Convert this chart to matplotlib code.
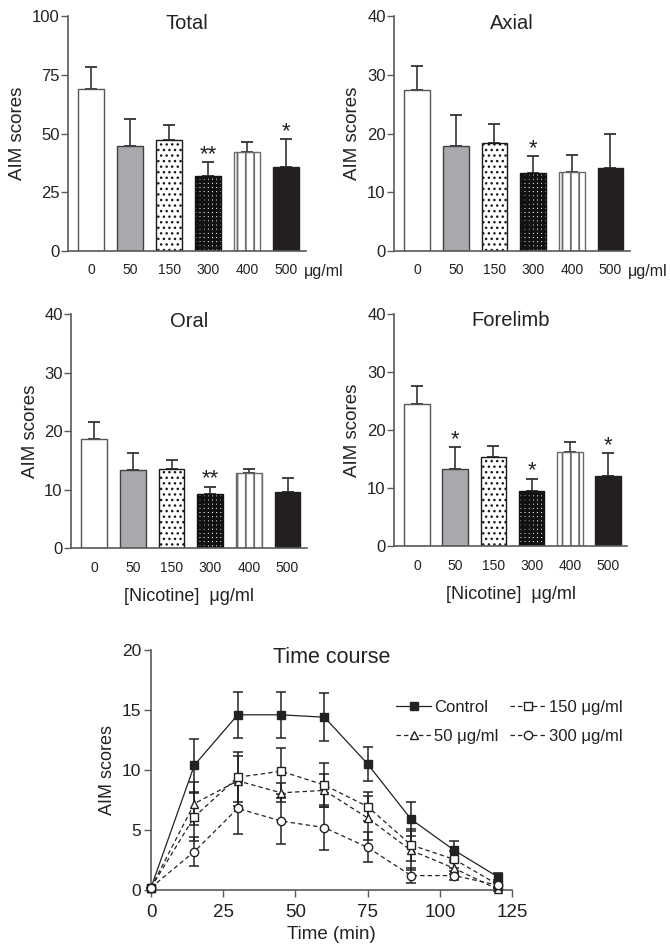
import matplotlib
matplotlib.use("Agg")
import matplotlib.pyplot as plt
from matplotlib.lines import Line2D
import numpy as np

plt.rcParams['font.family'] = ['Liberation Sans', 'DejaVu Sans']
plt.rcParams['hatch.linewidth'] = 1.0

# ---------------- data ----------------
doses = ["0", "50", "150", "300", "400", "500"]

total_mean = [68.9, 44.6, 47.2, 31.8, 42.2, 35.8]
total_top = [78.3, 56.1, 53.6, 37.8, 46.6, 47.6]
total_sig = ["", "", "", "**", "", "*"]

axial_mean = [27.4, 17.8, 18.4, 13.2, 13.5, 14.2]
axial_top = [31.5, 23.2, 21.6, 16.2, 16.4, 19.9]
axial_sig = ["", "", "", "*", "", ""]

oral_mean = [18.7, 13.4, 13.5, 9.2, 12.8, 9.6]
oral_top = [21.5, 16.2, 15.0, 10.5, 13.5, 12.0]
oral_sig = ["", "", "", "**", "", ""]

fore_mean = [24.5, 13.3, 15.4, 9.5, 16.2, 12.1]
fore_top = [27.6, 17.0, 17.3, 11.6, 18.0, 16.0]
fore_sig = ["", "*", "", "*", "", "*"]

time_min = [0, 15, 30, 45, 60, 75, 90, 105, 120]
ctrl_mean = [0.2, 10.4, 14.6, 14.6, 14.4, 10.5, 5.9, 3.3, 1.1]
ctrl_err = [0.0, 2.2, 1.9, 1.9, 2.0, 1.4, 1.4, 0.8, 0.3]
d50_mean = [0.2, 7.2, 9.1, 8.1, 8.3, 6.0, 3.3, 1.8, 0.05]
d50_err = [0.0, 1.8, 2.1, 0.8, 1.4, 1.8, 1.6, 0.5, 0.1]
d150_mean = [0.2, 6.1, 9.4, 9.9, 8.75, 6.95, 3.75, 2.55, 0.45]
d150_err = [0.0, 2.0, 2.1, 1.9, 1.85, 1.2, 1.3, 0.7, 0.2]
d300_mean = [0.2, 3.2, 6.8, 5.75, 5.2, 3.55, 1.2, 1.2, 0.4]
d300_err = [0.0, 1.2, 2.1, 1.95, 1.9, 1.25, 0.6, 0.4, 0.2]

AXC = '#5a5a5a'
TXT = '#222222'

bar_styles = [
    dict(facecolor='white', edgecolor='#555555', hatch=None, hlw=1.0),
    dict(facecolor='#a7a9ac', edgecolor='#404040', hatch=None, hlw=1.0),
    dict(facecolor='white', edgecolor='#1a1a1a', hatch='...', hlw=1.0),
    dict(facecolor='white', edgecolor='#111111', hatch='++++', hlw=2.2),
    dict(facecolor='white', edgecolor='#6a6a6a', hatch='||', hlw=1.3),
    dict(facecolor='#231f20', edgecolor='#231f20', hatch=None, hlw=1.0),
]

fig = plt.figure(figsize=(6.7, 9.47), dpi=100)


def style_axes(ax):
    for s in ['top', 'right']:
        ax.spines[s].set_visible(False)
    for s in ['left', 'bottom']:
        ax.spines[s].set_color(AXC)
        ax.spines[s].set_linewidth(1.2)
    ax.tick_params(axis='y', colors=AXC, labelcolor=TXT, length=5, width=1.0,
                   labelsize=12, pad=1)
    ax.tick_params(axis='x', length=0, labelcolor=TXT, labelsize=10, pad=9)


def bar_panel(rect, title, mean, top, sig, ymax, yticks, unit_right, xlabel):
    ax = fig.add_axes(rect)
    x = np.arange(len(doses))
    for i in x:
        st = bar_styles[i]
        with plt.rc_context({'hatch.linewidth': st['hlw']}):
            ax.bar(i, mean[i], width=0.67, facecolor=st['facecolor'],
                   edgecolor=st['edgecolor'], hatch=st['hatch'], linewidth=1.0,
                   zorder=2)
    errs = np.array(top) - np.array(mean)
    ax.errorbar(x, mean, yerr=[np.zeros_like(errs), errs], fmt='none',
                ecolor='#333333', elinewidth=1.2, capsize=4.3, capthick=1.3, zorder=1)
    for i, s in enumerate(sig):
        if s:
            ax.annotate(s, (i, top[i]), xytext=(0, 1.5), textcoords='offset points',
                        ha='center', va='baseline', fontsize=16, color=TXT)
    ax.set_xlim(-0.6, 5.5)
    ax.set_ylim(0, ymax)
    ax.set_yticks(yticks)
    ax.set_xticks(x)
    ax.set_xticklabels(doses)
    style_axes(ax)
    ax.set_ylabel('AIM scores', fontsize=13.5, color=TXT, labelpad=4)
    ax.text(0.5, 0.97, title, transform=ax.transAxes, ha='center', va='center',
            fontsize=14.5, color=TXT)
    if unit_right:
        ax.text(5.45, -0.055, 'μg/ml', transform=ax.get_xaxis_transform(),
                ha='left', va='top', fontsize=11.5, color=TXT)
    if xlabel:
        ax.set_xlabel('[Nicotine]  μg/ml', fontsize=13, color=TXT, labelpad=10)
    return ax


bar_panel([0.1015, 0.735, 0.355, 0.248], 'Total', total_mean, total_top, total_sig,
          100, [0, 25, 50, 75, 100], True, False)
bar_panel([0.588, 0.735, 0.352, 0.248], 'Axial', axial_mean, axial_top, axial_sig,
          40, [0, 10, 20, 30, 40], True, False)
bar_panel([0.106, 0.4213, 0.352, 0.247], 'Oral', oral_mean, oral_top, oral_sig,
          40, [0, 10, 20, 30, 40], False, True)
bar_panel([0.588, 0.4234, 0.348, 0.245], 'Forelimb', fore_mean, fore_top, fore_sig,
          40, [0, 10, 20, 30, 40], False, True)

# ---------------- time course ----------------
ax = fig.add_axes([0.2254, 0.0602, 0.539, 0.2534])
series = [
    ('Control', ctrl_mean, ctrl_err, 's', '-', TXT),
    ('50 μg/ml', d50_mean, d50_err, '^', '--', 'white'),
    ('150 μg/ml', d150_mean, d150_err, 's', '--', 'white'),
    ('300 μg/ml', d300_mean, d300_err, 'o', '--', 'white'),
]
handles = {}
for name, m, e, mk, ls, fc in series:
    dashes = (3.5, 2.5) if ls == '--' else None
    kw = dict(dashes=dashes) if dashes else {}
    ax.errorbar(time_min, m, yerr=e, fmt=mk, linestyle=ls, color=TXT,
                mfc=fc, mec=TXT, ms=6, lw=0.9, elinewidth=1.1, capsize=3.8,
                capthick=1.1, clip_on=False, zorder=3, **kw)
    handles[name] = Line2D([], [], marker=mk, linestyle=ls, color=TXT, mfc=fc,
                           mec=TXT, ms=6, lw=0.9, **kw)
ax.set_xlim(0, 125)
ax.set_ylim(0, 20)
ax.set_xticks([0, 25, 50, 75, 100, 125])
ax.set_yticks([0, 5, 10, 15, 20])
for s in ['top', 'right']:
    ax.spines[s].set_visible(False)
for s in ['left', 'bottom']:
    ax.spines[s].set_color(AXC)
    ax.spines[s].set_linewidth(1.2)
ax.tick_params(axis='y', colors=AXC, labelcolor=TXT, length=5, width=1.0,
               labelsize=12.5, pad=2)
ax.tick_params(axis='x', colors=AXC, labelcolor=TXT, length=5, width=1.0,
               labelsize=13.5, pad=5)
ax.set_ylabel('AIM scores', fontsize=13, color=TXT, labelpad=4)
ax.set_xlabel('Time (min)', fontsize=13.5, color=TXT, labelpad=4)
ax.text(0.5, 0.97, 'Time course', transform=ax.transAxes, ha='center', va='center',
        fontsize=15.5, color=TXT)
order = ['Control', '50 μg/ml', '150 μg/ml', '300 μg/ml']
leg = ax.legend([handles[n] for n in order], order, ncol=2, loc='upper left',
                bbox_to_anchor=(0.66, 0.82), frameon=False, fontsize=12,
                handlelength=2.1, handletextpad=0.2, columnspacing=0.7,
                labelspacing=0.85, borderaxespad=0)
for t in leg.get_texts():
    t.set_color(TXT)

fig.savefig('out.png', dpi=100)
